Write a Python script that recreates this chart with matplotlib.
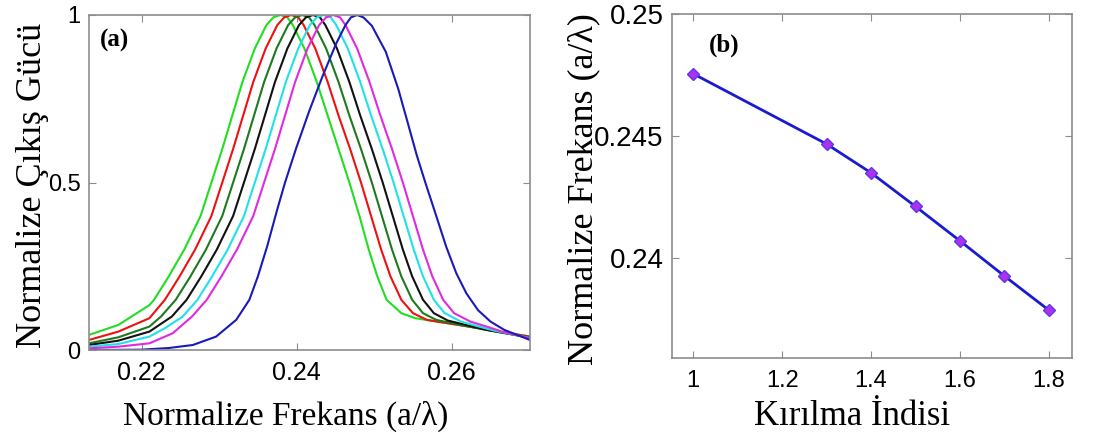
import numpy as np
import matplotlib.pyplot as plt

# (a) normalized output power curves, one per refractive index
green_x = [0.2132, 0.2170, 0.2210, 0.2216, 0.2235, 0.2255, 0.2276, 0.2290, 0.2304, 0.2317, 0.2330, 0.2346, 0.2361, 0.2370, 0.2379,
           0.2388, 0.2395, 0.2410, 0.2426, 0.2440, 0.2454, 0.2468, 0.2481, 0.2493, 0.2504, 0.2516, 0.2535, 0.2553, 0.2594, 0.2636, 0.2701]
green_y = [0.045, 0.075, 0.134, 0.15, 0.22, 0.30, 0.40, 0.50, 0.60, 0.70, 0.80, 0.90, 0.97, 0.993, 1.0,
           0.993, 0.97, 0.90, 0.80, 0.70, 0.60, 0.50, 0.40, 0.30, 0.22, 0.15, 0.11, 0.095, 0.080, 0.065, 0.040]

red_x = [0.2132, 0.2170, 0.2210, 0.2230, 0.2249, 0.2269, 0.2290, 0.2304, 0.2318, 0.2331, 0.2344, 0.2360, 0.2375, 0.2384, 0.2393,
         0.2402, 0.2409, 0.2424, 0.2440, 0.2454, 0.2469, 0.2483, 0.2496, 0.2509, 0.2521, 0.2535, 0.2550, 0.2568, 0.2595, 0.2636, 0.2701]
red_y = [0.030, 0.055, 0.095, 0.15, 0.22, 0.30, 0.40, 0.50, 0.60, 0.70, 0.80, 0.90, 0.97, 0.993, 1.0,
         0.993, 0.97, 0.90, 0.80, 0.70, 0.60, 0.50, 0.40, 0.30, 0.22, 0.15, 0.11, 0.09, 0.080, 0.065, 0.040]

dkgreen_x = [0.2132, 0.2170, 0.2210, 0.2225, 0.2244, 0.2263, 0.2283, 0.2304, 0.2318, 0.2332, 0.2345, 0.2358, 0.2374, 0.2389, 0.2398, 0.2407,
             0.2416, 0.2423, 0.2438, 0.2454, 0.2468, 0.2483, 0.2497, 0.2510, 0.2523, 0.2535, 0.2549, 0.2563, 0.2580, 0.2605, 0.2640, 0.2701]
dkgreen_y = [0.020, 0.038, 0.070, 0.10, 0.15, 0.22, 0.30, 0.40, 0.50, 0.60, 0.70, 0.80, 0.90, 0.97, 0.993, 1.0,
             0.993, 0.97, 0.90, 0.80, 0.70, 0.60, 0.50, 0.40, 0.30, 0.22, 0.15, 0.11, 0.09, 0.078, 0.062, 0.038]

black_x = [0.2132, 0.2170, 0.2210, 0.2239, 0.2258, 0.2277, 0.2297, 0.2318, 0.2332, 0.2346, 0.2359, 0.2372, 0.2388, 0.2403, 0.2412, 0.2421,
           0.2430, 0.2437, 0.2452, 0.2468, 0.2482, 0.2497, 0.2511, 0.2524, 0.2537, 0.2549, 0.2563, 0.2577, 0.2595, 0.2618, 0.2645, 0.2701]
black_y = [0.015, 0.028, 0.055, 0.10, 0.15, 0.22, 0.30, 0.40, 0.50, 0.60, 0.70, 0.80, 0.90, 0.97, 0.993, 1.0,
           0.993, 0.97, 0.90, 0.80, 0.70, 0.60, 0.50, 0.40, 0.30, 0.22, 0.15, 0.11, 0.088, 0.075, 0.060, 0.037]

cyan_x = [0.2132, 0.2170, 0.2210, 0.2230, 0.2253, 0.2272, 0.2291, 0.2311, 0.2332, 0.2346, 0.2360, 0.2373, 0.2386, 0.2402, 0.2417, 0.2426, 0.2435,
          0.2444, 0.2451, 0.2466, 0.2482, 0.2496, 0.2511, 0.2525, 0.2538, 0.2551, 0.2563, 0.2577, 0.2591, 0.2612, 0.2632, 0.2655, 0.2701]
cyan_y = [0.010, 0.018, 0.040, 0.065, 0.10, 0.15, 0.22, 0.30, 0.40, 0.50, 0.60, 0.70, 0.80, 0.90, 0.97, 0.993, 1.0,
          0.993, 0.97, 0.90, 0.80, 0.70, 0.60, 0.50, 0.40, 0.30, 0.22, 0.15, 0.11, 0.085, 0.072, 0.058, 0.036]

magenta_x = [0.2132, 0.2170, 0.2210, 0.2240, 0.2265, 0.2284, 0.2303, 0.2323, 0.2344, 0.2358, 0.2372, 0.2385, 0.2398, 0.2414, 0.2429, 0.2438, 0.2447,
             0.2456, 0.2463, 0.2478, 0.2494, 0.2508, 0.2523, 0.2537, 0.2550, 0.2563, 0.2575, 0.2589, 0.2603, 0.2624, 0.2645, 0.2665, 0.2701]
magenta_y = [0.005, 0.010, 0.020, 0.050, 0.10, 0.15, 0.22, 0.30, 0.40, 0.50, 0.60, 0.70, 0.80, 0.90, 0.97, 0.993, 1.0,
             0.993, 0.97, 0.90, 0.80, 0.70, 0.60, 0.50, 0.40, 0.30, 0.22, 0.15, 0.11, 0.085, 0.070, 0.055, 0.035]

blue_x = [0.2132, 0.2200, 0.2235, 0.2266, 0.2296, 0.2322, 0.2339, 0.2350, 0.2362, 0.2375, 0.2385, 0.2399, 0.2416, 0.2433, 0.2451, 0.2463, 0.2470, 0.2478,
          0.2486, 0.2497, 0.2515, 0.2531, 0.2543, 0.2555, 0.2566, 0.2579, 0.2593, 0.2606, 0.2619, 0.2634, 0.2650, 0.2668, 0.2701]
blue_y = [0.000, 0.001, 0.006, 0.015, 0.040, 0.090, 0.150, 0.220, 0.310, 0.420, 0.500, 0.600, 0.712, 0.815, 0.915, 0.970, 0.993, 1.0,
          0.993, 0.968, 0.890, 0.780, 0.681, 0.581, 0.500, 0.408, 0.308, 0.229, 0.169, 0.119, 0.085, 0.060, 0.030]

curves = [
    (green_x, green_y, "#22dd22"),
    (red_x, red_y, "#ee1111"),
    (dkgreen_x, dkgreen_y, "#1e7a1e"),
    (black_x, black_y, "#111111"),
    (cyan_x, cyan_y, "#22e0e8"),
    (magenta_x, magenta_y, "#e02ae0"),
    (blue_x, blue_y, "#1a1ab8"),
]

# (b) resonance frequency vs refractive index
n_index = [1.0, 1.3, 1.4, 1.5, 1.6, 1.7, 1.8]
res_freq = [0.24755, 0.24467, 0.24349, 0.24211, 0.24070, 0.23926, 0.23786]

tickfont = "Liberation Sans"
labelfont = "Liberation Serif"
frame = "#8c8c8c"

fig = plt.figure(figsize=(11.05, 4.36), dpi=100)
ax1 = fig.add_axes([0.0805, 0.1972, 0.3991, 0.7684])
ax2 = fig.add_axes([0.6081, 0.1789, 0.3620, 0.7890])

for x, y, c in curves:
    ax1.plot(x, y, color=c, lw=1.5, solid_joinstyle="round")
ax1.set_xlim(0.2132, 0.2701)
ax1.set_ylim(0, 1)
ax1.set_xticks([0.22, 0.24, 0.26])
ax1.set_xticklabels(["0.22", "0.24", "0.26"])
ax1.set_yticks([0, 0.5, 1])
ax1.set_yticklabels(["0", "0.5", "1"])
ax1.set_xlabel("Normalize Frekans (a/λ)", fontfamily=labelfont, fontsize=24)
ax1.xaxis.set_label_coords(0.447, -0.222)
ax1.xaxis.label.set_va("baseline")
ax1.set_ylabel("Normalize Çıkış Gücü", fontfamily=labelfont, fontsize=26)
ax1.yaxis.set_label_coords(-0.09, 0.49)
ax1.text(0.025, 0.925, "(a)", transform=ax1.transAxes, fontfamily=labelfont,
         fontweight="bold", fontsize=18, va="center", ha="left")

ax2.plot(n_index, res_freq, color="#1a1ad0", lw=2, marker="D", ms=6,
         mfc="#b030f0", mec="#5a3ae8", mew=1)
ax2.set_xlim(0.952, 1.852)
ax2.set_ylim(0.2359, 0.25)
ax2.set_xticks([1, 1.2, 1.4, 1.6, 1.8])
ax2.set_xticklabels(["1", "1.2", "1.4", "1.6", "1.8"])
ax2.set_yticks([0.24, 0.245, 0.25])
ax2.set_yticklabels(["0.24", "0.245", "0.25"])
ax2.set_xlabel("Kırılma İndisi", fontfamily=labelfont, fontsize=25)
ax2.xaxis.set_label_coords(0.45, -0.196)
ax2.xaxis.label.set_va("baseline")
ax2.set_ylabel("Normalize Frekans (a/λ)", fontfamily=labelfont, fontsize=26)
ax2.yaxis.set_label_coords(-0.18, 0.49)
ax2.text(0.13, 0.91, "(b)", transform=ax2.transAxes, fontfamily=labelfont,
         fontweight="bold", fontsize=18, va="center", ha="center")

for ax, fs_x, fs_y, pad_x in [(ax1, 18, 17, 8), (ax2, 17, 20, 9)]:
    for s in ax.spines.values():
        s.set_color(frame)
        s.set_linewidth(1.2)
    ax.tick_params(direction="in", top=True, right=True, length=5, color=frame, pad=6)
    ax.tick_params(axis="x", pad=pad_x)
    for lab in ax.get_xticklabels():
        lab.set_fontfamily(tickfont)
        lab.set_fontsize(fs_x)
    for lab in ax.get_yticklabels():
        lab.set_fontfamily(tickfont)
        lab.set_fontsize(fs_y)

fig.savefig("out.png", dpi=100)
